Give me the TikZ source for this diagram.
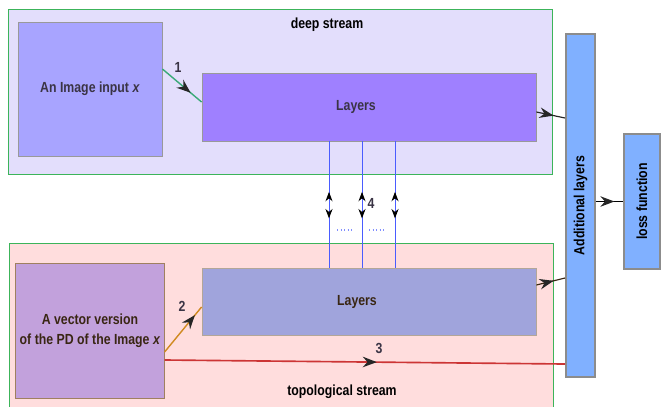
\documentclass[tikz,border=0pt]{standalone}
\usepackage{fontspec}
\setmainfont{Liberation Sans}[FakeStretch=0.84]
\usetikzlibrary{arrows.meta,positioning,decorations.markings}
\definecolor{deepfill}{HTML}{E3DEFC}
\definecolor{topofill}{HTML}{FFDDDD}
\definecolor{framegreen}{HTML}{3CB45A}
\definecolor{imgfill}{HTML}{A8A4FF}
\definecolor{deeplayers}{HTML}{9F80FF}
\definecolor{vecfill}{HTML}{C2A1DC}
\definecolor{topolayers}{HTML}{A0A4DC}
\definecolor{addfill}{HTML}{80B0FF}
\definecolor{linkgreen}{HTML}{3AAA78}
\definecolor{linkorange}{HTML}{D08A20}
\definecolor{linkred}{HTML}{CC3535}
\definecolor{linkblue}{HTML}{4A5CFF}
\definecolor{inktext}{HTML}{3A3445}

\begin{document}
\begin{tikzpicture}[x=0.03cm, y=-0.03cm,
    font=\fontsize{12.5}{17}\selectfont\bfseries,
    stream/.style={draw=framegreen, line width=0.7pt, minimum width=16.32cm},
    block/.style={draw=gray!80, line width=0.7pt, align=center, text=inktext},
    tall/.style={draw=gray!90, line width=1.6pt, fill=addfill, rotate=90, text=black},
    midtip/.style={postaction={decorate}, decoration={markings,
        mark=at position #1 with {\arrow{Stealth[length=12pt,width=9pt,inset=4pt,color=black!85]}}}},
    numlbl/.style={text=inktext},
    vlink/.style={draw=linkblue, line width=0.8pt, postaction={decorate}, decoration={markings,
        mark=at position 0.40 with {\arrowreversed{Stealth[length=8pt,width=6pt,inset=2.5pt,color=black]}},
        mark=at position 0.61 with {\arrow{Stealth[length=8pt,width=6pt,inset=2.5pt,color=black]}}}}
]
    \useasboundingbox (0,0) rectangle (662,406);

    \node[stream, fill=deepfill, minimum height=4.95cm] (deep) at (280,91.5) {};
    \node[stream, fill=topofill, minimum height=5.07cm] (topo) at (281,327.5) {};
    \node (deeptitle) at (327,25) {deep stream};
    \node (topotitle) at (342,392) {topological stream};

    \node[block, fill=imgfill, minimum width=4.32cm, minimum height=4.02cm] (img) at (90,89) {An Image input \textit{x}};
    \node[block, fill=deeplayers, minimum width=10.02cm, minimum height=2.04cm,
        label={[xshift=-0.39cm, text=inktext]center:Layers}] (dlayers) at (369,107) {};
    \node[block, draw=brown!50!gray, fill=vecfill, minimum width=4.32cm, minimum height=4.05cm, text=black!70!brown] (vec) at (90,330.5) {A vector version\\of the PD of the Image \textit{x}};
    \node[block, draw=brown!30!gray!70, fill=topolayers, minimum width=10.02cm, minimum height=2.01cm,
        label={[xshift=-0.36cm, text=black!70!brown]center:Layers}] (tlayers) at (369,301.5) {};

    \node[tall, minimum width=10.29cm, minimum height=0.87cm] (add) at (580.5,205.5) {Additional layers};
    \node[tall, minimum width=4.05cm, minimum height=1.08cm] (loss) at (642,201.5) {loss function};

    \draw[linkgreen, line width=1.2pt, midtip=0.72] ([yshift=0.6cm]img.east) -- ([yshift=0.15cm]dlayers.west);
    \draw[linkorange, line width=1.2pt, midtip=0.82] ([yshift=-0.645cm]vec.east) -- ([yshift=-0.165cm]tlayers.west);
    \draw[linkred, line width=1.4pt, midtip=0.53] ([yshift=-0.885cm]vec.east) -- ([yshift=-4.755cm]add.north);
    \draw[black!85, line width=1pt, midtip=0.6] ([yshift=-0.15cm]dlayers.east) -- ([yshift=2.625cm]add.north);
    \draw[black!70!brown, line width=1pt, midtip=0.6] ([yshift=0.495cm]tlayers.east) -- ([yshift=-2.175cm]add.north);
    \draw[black, line width=1pt, midtip=0.68] (add.south |- loss.north) -- (loss.north);

    \draw[vlink] ([xshift=-1.2cm]dlayers.south) -- ([xshift=-1.2cm]tlayers.north);
    \draw[vlink] ([xshift=-0.21cm]dlayers.south) -- ([xshift=-0.21cm]tlayers.north);
    \draw[vlink] ([xshift=0.78cm]dlayers.south) -- ([xshift=0.78cm]tlayers.north);
    \draw[linkblue!70, dotted, line width=1pt] (337,230) -- (353,230);
    \draw[linkblue!70, dotted, line width=1pt] (369,230) -- (385,230);

    \node[numlbl] (n1) at (178,67) {1};
    \node[numlbl] (n2) at (182,306) {2};
    \node[numlbl] (n3) at (379,348) {3};
    \node[numlbl] (n4) at (371,203) {4};
\end{tikzpicture}
\end{document}
